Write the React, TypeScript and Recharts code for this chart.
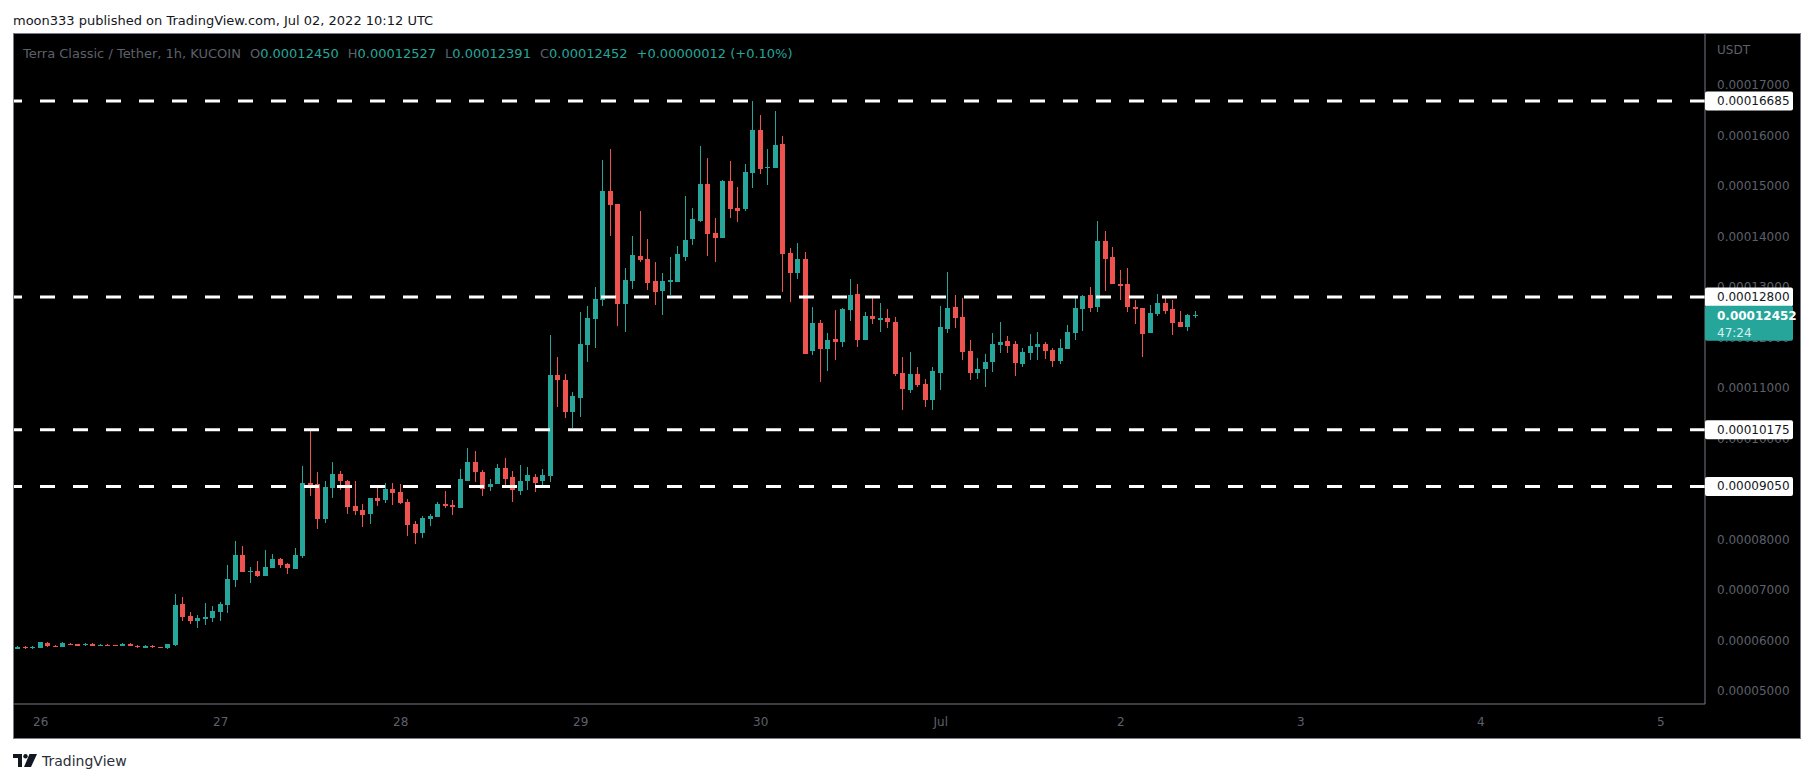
import React from "react";
import { ComposedChart, Bar, XAxis, YAxis, ReferenceLine } from "recharts";

// Terra Classic / Tether, 1h candles, KUCOIN.
// Prices are in units of 0.00001 USDT; hour 0 = Jun 25 21:00 UTC.
const opens = [
  5.84, 5.88, 5.85, 5.86, 5.96, 5.9, 5.88, 5.94, 5.93, 5.92,
  5.94, 5.9, 5.92, 5.91, 5.9, 5.94, 5.9, 5.86, 5.9, 5.87,
  5.85, 5.91, 6.72, 6.48, 6.39, 6.43, 6.45, 6.56, 6.7, 7.2,
  7.69, 7.36, 7.37, 7.28, 7.44, 7.61, 7.51, 7.42, 7.67, 9.12,
  9.1, 8.41, 9.02, 9.3, 9.16, 8.66, 8.58, 8.5, 8.82, 8.78,
  9.0, 8.94, 8.74, 8.31, 8.13, 8.41, 8.45, 8.7, 8.68, 8.62,
  9.16, 9.53, 9.34, 9.04, 9.1, 9.42, 9.24, 8.96, 9.16, 9.24,
  9.15, 9.26, 11.26, 11.16, 10.53, 10.81, 11.86, 12.37, 12.74, 14.9,
  14.64, 12.66, 13.12, 13.61, 13.55, 13.12, 12.92, 13.1, 13.1, 13.59,
  13.95, 14.31, 15.04, 14.07, 13.97, 15.1, 14.56, 14.54, 15.26, 16.11,
  15.36, 15.36, 15.83, 13.67, 13.28, 13.55, 11.73, 12.29, 11.77, 11.97,
  11.91, 12.54, 12.86, 11.95, 12.43, 12.35, 12.39, 12.31, 11.3, 10.96,
  11.28, 11.08, 10.76, 11.3, 12.17, 12.6, 12.41, 11.73, 11.3, 11.38,
  11.52, 11.85, 11.93, 11.87, 11.48, 11.69, 11.81, 11.87, 11.75, 11.53,
  11.77, 12.09, 12.56, 12.84, 12.6, 13.91, 13.59, 13.06, 13.06, 12.6,
  12.58, 12.09, 12.47, 12.68, 12.56, 12.31, 12.21, 12.45,
];
const highs = [
  5.89, 5.89, 5.9, 5.98, 5.97, 5.91, 5.97, 5.95, 5.94, 5.96,
  5.95, 5.94, 5.94, 5.92, 5.95, 5.96, 5.91, 5.91, 5.91, 5.88,
  5.94, 6.92, 6.86, 6.56, 6.5, 6.74, 6.68, 6.76, 7.5, 7.97,
  7.87, 7.45, 7.57, 7.79, 7.71, 7.63, 7.53, 7.83, 9.45, 10.19,
  9.34, 9.16, 9.53, 9.36, 9.18, 9.16, 8.7, 8.82, 9.04, 9.12,
  9.12, 9.1, 8.8, 8.37, 8.46, 8.51, 8.74, 8.96, 8.78, 9.4,
  9.81, 9.75, 9.38, 9.2, 9.5, 9.61, 9.36, 9.48, 9.44, 9.3,
  9.39, 12.05, 11.61, 11.28, 10.92, 12.51, 12.62, 13.0, 15.52, 15.73,
  14.64, 13.38, 14.01, 14.5, 13.95, 13.5, 13.28, 13.59, 13.81, 14.8,
  14.56, 15.79, 15.55, 14.37, 15.12, 15.49, 14.98, 15.44, 16.68, 16.41,
  15.73, 16.48, 15.99, 13.77, 13.87, 13.69, 12.6, 12.35, 12.09, 12.54,
  12.58, 13.16, 13.06, 12.51, 12.82, 12.68, 12.56, 12.41, 11.61, 11.71,
  11.42, 11.18, 11.42, 12.62, 13.3, 12.84, 12.78, 11.95, 11.59, 11.67,
  12.09, 12.31, 12.03, 11.93, 11.79, 12.07, 12.11, 11.91, 11.79, 11.97,
  12.25, 12.78, 12.84, 13.0, 14.31, 14.11, 13.79, 13.34, 13.38, 12.74,
  12.58, 12.64, 12.86, 12.82, 12.74, 12.52, 12.47, 12.527,
];
const lows = [
  5.83, 5.84, 5.84, 5.85, 5.88, 5.87, 5.87, 5.91, 5.89, 5.89,
  5.89, 5.89, 5.89, 5.89, 5.89, 5.89, 5.86, 5.85, 5.86, 5.85,
  5.83, 5.9, 6.39, 6.33, 6.25, 6.31, 6.37, 6.38, 6.54, 7.06,
  7.35, 7.14, 7.26, 7.27, 7.43, 7.43, 7.32, 7.41, 7.63, 8.86,
  8.21, 8.33, 8.82, 8.98, 8.5, 8.48, 8.25, 8.31, 8.66, 8.72,
  8.68, 8.7, 8.07, 7.91, 8.03, 8.27, 8.44, 8.62, 8.49, 8.62,
  9.16, 9.14, 8.86, 8.96, 9.1, 9.02, 8.74, 8.88, 8.98, 8.94,
  9.08, 9.13, 10.63, 10.41, 10.21, 10.43, 11.52, 11.8, 12.62, 14.01,
  12.22, 12.11, 12.96, 13.49, 12.94, 12.64, 12.45, 12.84, 13.1, 13.51,
  13.83, 14.29, 13.61, 13.49, 13.97, 14.37, 14.29, 14.5, 14.96, 15.24,
  15.02, 15.36, 12.9, 12.7, 13.16, 11.67, 11.65, 11.12, 11.34, 11.55,
  11.81, 12.33, 11.81, 11.95, 12.27, 12.11, 12.19, 11.24, 10.56, 10.9,
  11.02, 10.62, 10.56, 10.96, 12.09, 12.19, 11.55, 11.16, 11.18, 11.02,
  11.32, 11.69, 11.69, 11.24, 11.42, 11.55, 11.55, 11.57, 11.42, 11.48,
  11.77, 11.95, 12.13, 12.5, 12.5, 12.92, 13.06, 12.74, 12.5, 12.27,
  11.61, 12.09, 12.43, 12.47, 12.05, 12.21, 12.13, 12.391,
];
const closes = [
  5.88, 5.85, 5.88, 5.97, 5.89, 5.88, 5.96, 5.92, 5.9, 5.93,
  5.9, 5.92, 5.9, 5.9, 5.94, 5.9, 5.88, 5.9, 5.87, 5.86,
  5.94, 6.7, 6.47, 6.39, 6.45, 6.47, 6.58, 6.72, 7.22, 7.69,
  7.36, 7.38, 7.28, 7.46, 7.61, 7.49, 7.43, 7.69, 9.12, 9.08,
  8.41, 9.04, 9.3, 9.16, 8.64, 8.56, 8.48, 8.82, 8.76, 9.0,
  8.92, 8.72, 8.29, 8.13, 8.43, 8.47, 8.7, 8.66, 8.64, 9.2,
  9.53, 9.34, 9.0, 9.1, 9.42, 9.2, 8.98, 9.16, 9.28, 9.12,
  9.28, 11.26, 11.15, 10.53, 10.84, 11.87, 12.39, 12.76, 14.9, 14.63,
  12.66, 13.14, 13.63, 13.53, 13.08, 12.9, 13.12, 13.14, 13.65, 13.93,
  14.35, 15.04, 14.05, 13.97, 15.1, 14.54, 14.5, 15.28, 16.11, 15.34,
  15.38, 15.81, 13.65, 13.28, 13.55, 11.67, 12.29, 11.77, 11.95, 11.91,
  12.56, 12.84, 11.95, 12.43, 12.37, 12.39, 12.31, 11.28, 10.98, 11.28,
  11.06, 10.76, 11.34, 12.21, 12.58, 12.39, 11.71, 11.3, 11.38, 11.52,
  11.87, 11.91, 11.83, 11.5, 11.71, 11.83, 11.87, 11.73, 11.53, 11.79,
  12.11, 12.58, 12.82, 12.58, 13.91, 13.55, 13.06, 13.02, 12.6, 12.56,
  12.07, 12.49, 12.68, 12.52, 12.29, 12.21, 12.44, 12.452,
];

// day labels on the time axis (hour index of each midnight)
const dayHours = [3, 27, 51, 75, 99, 123, 147, 171, 195, 219];
const dayLabels = ["26", "27", "28", "29", "30", "Jul", "2", "3", "4", "5"];
const priceTicks = [5, 6, 7, 8, 9, 10, 11, 12, 13, 14, 15, 16, 17];
// horizontal levels drawn by the author
const levels = [16.685, 12.8, 10.175, 9.05];
const countdown = "47:24";

const UP = "#26a69a";
const DOWN = "#ef5350";
const DIM = "#5d606b";
const LINE = "#787b86";
const FONT = "'DejaVu Sans', sans-serif";

const X_DOMAIN: [number, number] = [-0.56, 224.9];
const Y_DOMAIN: [number, number] = [4.743, 18.01];

const fmt = (v: number) => "0." + String(Math.round(v * 1000)).padStart(8, "0");

const candles = opens.map((open, i) => ({
  hour: i,
  open,
  high: highs[i],
  low: lows[i],
  close: closes[i],
  range: [lows[i], highs[i]],
}));

const last = candles[candles.length - 1];
const prevClose = closes[closes.length - 2];
const change = last.close - prevClose;
const changePct = ((change / prevClose) * 100).toFixed(2);

const Candle = (props: any) => {
  const { x, y, width, height, payload } = props;
  if (x == null || y == null || !payload) return null;
  const { open, close, high, low } = payload;
  const color = close >= open ? UP : DOWN;
  const h = Math.abs(height || 0);
  const top = height < 0 ? y + height : y;
  const k = high > low ? h / (high - low) : 0;
  const bodyTop = top + (high - Math.max(open, close)) * k;
  const bodyBot = top + (high - Math.min(open, close)) * k;
  const cx = x + width / 2;
  return (
    <g shapeRendering="crispEdges">
      <line x1={cx} x2={cx} y1={top} y2={top + h} stroke={color} strokeWidth={1} />
      <rect x={x} y={bodyTop} width={width} height={Math.max(1, bodyBot - bodyTop)} fill={color} />
    </g>
  );
};

const PriceTick = ({ x, y, payload }: any) => (
  <text x={x} y={y} dominantBaseline="central" fontSize={12} fill={DIM} fontFamily={FONT}>
    {fmt(payload.value)}
  </text>
);

const DayTick = ({ x, y, payload }: any) => (
  <text x={x} y={y} textAnchor="middle" dominantBaseline="central" fontSize={12} fill={DIM} fontFamily={FONT}>
    {dayLabels[dayHours.indexOf(payload.value)]}
  </text>
);

const LevelTag = ({ viewBox, value }: any) => {
  if (!viewBox) return null;
  const x0 = viewBox.x + viewBox.width;
  return (
    <g>
      <rect x={x0} y={viewBox.y - 9.5} width={88} height={19} rx={2} fill="#ffffff" />
      <text x={x0 + 12} y={viewBox.y} dominantBaseline="central" fontSize={12} fill="#131722" fontFamily={FONT}>
        {fmt(value)}
      </text>
    </g>
  );
};

const LastTag = ({ viewBox, value }: any) => {
  if (!viewBox) return null;
  const x0 = viewBox.x + viewBox.width;
  return (
    <g>
      <rect x={x0} y={viewBox.y - 9} width={88} height={35} rx={2} fill={UP} />
      <text x={x0 + 12} y={viewBox.y + 1} dominantBaseline="central" fontSize={12} fontWeight="bold" fill="#ffffff" fontFamily={FONT}>
        {fmt(value)}
      </text>
      <text x={x0 + 12} y={viewBox.y + 18} dominantBaseline="central" fontSize={12} fill="#d8f0ed" fontFamily={FONT}>
        {countdown}
      </text>
    </g>
  );
};

const chartBox = { width: 1786, height: 704, margin: { top: 0, right: 0, bottom: 0, left: 0 } };

export default function App() {
  const ohlc: [string, number][] = [
    ["O", last.open],
    ["H", last.high],
    ["L", last.low],
    ["C", last.close],
  ];
  return (
    <div
      style={{
        position: "absolute",
        left: 0,
        top: 0,
        width: 1813,
        height: 783,
        background: "#ffffff",
        fontFamily: FONT,
        overflow: "hidden",
      }}
    >
      <div style={{ position: "absolute", left: 13, top: 13, fontSize: 13, lineHeight: "15px", color: "#131722" }}>
        moon333 published on TradingView.com, Jul 02, 2022 10:12 UTC
      </div>

      <div
        style={{
          position: "absolute",
          left: 13,
          top: 33,
          width: 1788,
          height: 706,
          boxSizing: "border-box",
          border: `1px solid ${LINE}`,
          background: "#000000",
        }}
      />

      {/* candles, axes and level lines */}
      <div style={{ position: "absolute", left: 14, top: 34 }}>
        <ComposedChart {...chartBox} data={candles}>
          <XAxis
            dataKey="hour"
            type="number"
            domain={X_DOMAIN}
            allowDataOverflow
            ticks={dayHours}
            height={34}
            axisLine={{ stroke: LINE }}
            tickLine={false}
            tickSize={0}
            tickMargin={18}
            tick={<DayTick />}
          />
          <YAxis
            orientation="right"
            type="number"
            domain={Y_DOMAIN}
            allowDataOverflow
            ticks={priceTicks}
            width={95}
            axisLine={{ stroke: LINE }}
            tickLine={false}
            tickSize={0}
            tickMargin={12}
            tick={<PriceTick />}
          />
          <Bar dataKey="range" shape={<Candle />} barSize={5} isAnimationActive={false} />
          {levels.map((lv) => (
            <ReferenceLine key={lv} y={lv} stroke="#ffffff" strokeWidth={3} strokeDasharray="15 18" />
          ))}
        </ComposedChart>
      </div>

      {/* price tags on the scale, drawn above the tick labels */}
      <div style={{ position: "absolute", left: 14, top: 34 }}>
        <ComposedChart {...chartBox} data={candles}>
          <XAxis dataKey="hour" type="number" domain={X_DOMAIN} allowDataOverflow height={34} tick={false} axisLine={false} tickLine={false} />
          <YAxis orientation="right" type="number" domain={Y_DOMAIN} allowDataOverflow width={95} tick={false} axisLine={false} tickLine={false} />
          {levels.map((lv) => (
            <ReferenceLine key={lv} y={lv} stroke="none" label={<LevelTag value={lv} />} />
          ))}
          <ReferenceLine y={last.close} stroke="none" label={<LastTag value={last.close} />} />
        </ComposedChart>
      </div>

      <div
        style={{
          position: "absolute",
          left: 23,
          top: 46,
          fontSize: 13,
          lineHeight: "15px",
          whiteSpace: "nowrap",
          color: DIM,
        }}
      >
        <span>Terra Classic / Tether, 1h, KUCOIN</span>
        {ohlc.map(([k, v]) => (
          <span key={k} style={{ marginLeft: 9 }}>
            {k}
            <span style={{ color: UP }}>{fmt(v)}</span>
          </span>
        ))}
        <span style={{ marginLeft: 9, color: UP }}>
          +{fmt(change)} (+{changePct}%)
        </span>
      </div>

      <div style={{ position: "absolute", left: 1717, top: 43, fontSize: 12, lineHeight: "14px", color: DIM }}>USDT</div>

      <svg style={{ position: "absolute", left: 13, top: 750 }} width={140} height={24}>
        <g fill="#131722">
          <rect x={0} y={4} width={9} height={4} />
          <rect x={5} y={4} width={4} height={13} />
          <circle cx={12.5} cy={6.3} r={2.2} />
          <polygon points="16.5,4 24,4 18,17 11,17" />
        </g>
        <text x={29} y={16} fontSize={14} fill="#2a2e39" fontFamily={FONT}>
          TradingView
        </text>
      </svg>
    </div>
  );
}
